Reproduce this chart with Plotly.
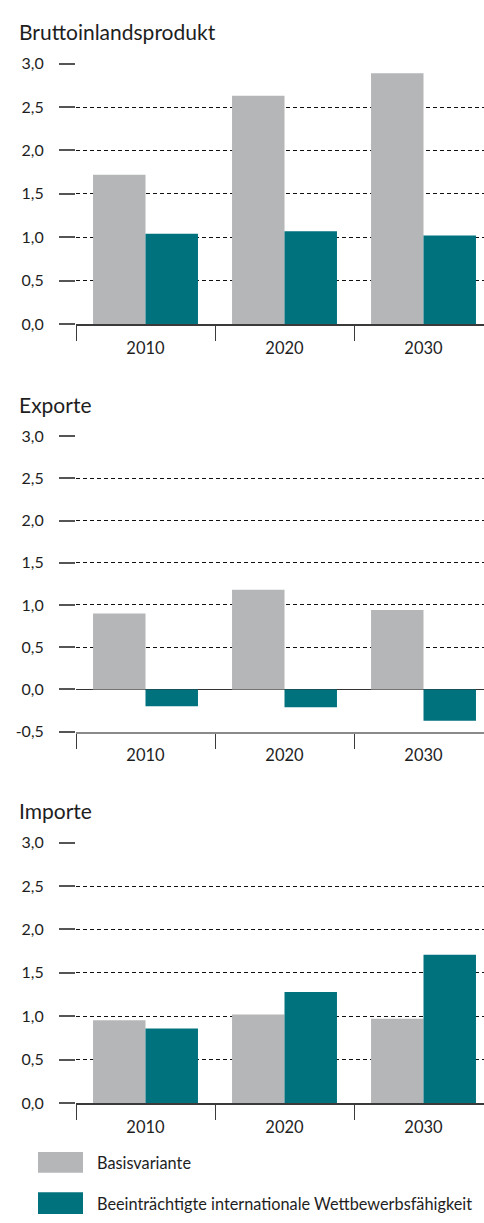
import plotly.graph_objects as go

# ---- data ----
years = ["2010", "2020", "2030"]
series_names = ["Basisvariante", "Beeinträchtigte internationale Wettbewerbsfähigkeit"]
panel_titles = ["Bruttoinlandsprodukt", "Exporte", "Importe"]

bip_basis = [1.72, 2.63, 2.89]
bip_beeintr = [1.04, 1.07, 1.02]
exp_basis = [0.90, 1.18, 0.94]
exp_beeintr = [-0.20, -0.21, -0.37]
imp_basis = [0.955, 1.02, 0.97]
imp_beeintr = [0.86, 1.28, 1.71]

tick_vals_pos = [0.0, 0.5, 1.0, 1.5, 2.0, 2.5, 3.0]
tick_text_pos = ["0,0", "0,5", "1,0", "1,5", "2,0", "2,5", "3,0"]
tick_vals_exp = [-0.5, 0.0, 0.5, 1.0, 1.5, 2.0, 2.5, 3.0]
tick_text_exp = ["-0,5", "0,0", "0,5", "1,0", "1,5", "2,0", "2,5", "3,0"]

colors = ["#b5b6b8", "#00727e"]

W, H = 484, 1223
FONT = "Lato"
TXT = "#1e1e1e"

def py(pix):
    return 1 - pix / H

panels = [
    dict(basis=bip_basis, beeintr=bip_beeintr, top=54, bottom=319, yr=[0, 3.0],
         tv=tick_vals_pos, tt=tick_text_pos, title_y=22),
    dict(basis=exp_basis, beeintr=exp_beeintr, top=432.3, bottom=733, yr=[-0.5, 3.0],
         tv=tick_vals_exp, tt=tick_text_exp, title_y=401),
    dict(basis=imp_basis, beeintr=imp_beeintr, top=845.3, bottom=1110.3, yr=[0, 3.0],
         tv=tick_vals_pos, tt=tick_text_pos, title_y=813),
]

fig = go.Figure()
x_left = 76 / W
annotations = []
shapes = []

for i, p in enumerate(panels):
    n = "" if i == 0 else str(i + 1)
    xa, ya = "x" + n, "y" + n
    for s, vals in enumerate([p["basis"], p["beeintr"]]):
        fig.add_trace(go.Bar(
            x=years, y=vals, name=series_names[s], marker_color=colors[s],
            marker_line_width=0, xaxis=xa, yaxis=ya, showlegend=False,
            offsetgroup=str(s),
        ))
    span = p["yr"][1] - p["yr"][0]
    eps = span * 0.002
    fig.layout["xaxis" + n] = dict(
        domain=[x_left, 1], anchor=ya, type="category",
        range=[-0.5, -0.5 + (W - 76) / 139.0],
        showgrid=False, zeroline=False,
        showline=True, linecolor="#3a3a3a" if i != 1 else "#8a8a8a", linewidth=2,
        ticks="outside", tickson="boundaries", ticklen=15, tickwidth=1.2,
        tickcolor="#3a3a3a", ticklabelstandoff=8,
        tickfont=dict(family=FONT, size=16.5, color=TXT),
        fixedrange=True,
    )
    fig.layout["yaxis" + n] = dict(
        domain=[py(p["bottom"]), py(p["top"])], anchor=xa,
        range=[p["yr"][0], p["yr"][1] + eps],
        tickvals=p["tv"], ticktext=p["tt"],
        showgrid=True, gridcolor="#111111", gridwidth=1, griddash="4px,3px",
        zeroline=(i == 1), zerolinecolor="#333333", zerolinewidth=1,
        showline=False,
        ticks="outside", ticklen=16, tickwidth=2, tickcolor="#555555",
        ticklabelstandoff=12,
        tickfont=dict(family=FONT, size=16, color=TXT),
        fixedrange=True,
    )
    annotations.append(dict(
        text=panel_titles[i], xref="paper", yref="paper",
        x=17 / W, y=py(p["title_y"]), xanchor="left", yanchor="middle",
        showarrow=False, font=dict(family=FONT, size=21, color=TXT),
    ))

# legend (drawn manually)
leg_rows = [(1160, 1181), (1201, 1223)]
for s, (t, b) in enumerate(leg_rows):
    shapes.append(dict(
        type="rect", xref="paper", yref="paper",
        x0=38 / W, x1=83 / W, y0=py(b), y1=py(t),
        fillcolor=colors[s], line_width=0,
    ))
    annotations.append(dict(
        text=series_names[s], xref="paper", yref="paper",
        x=95 / W, y=py((t + b) / 2), xanchor="left", yanchor="middle",
        showarrow=False, font=dict(family=FONT, size=16.3, color=TXT),
    ))

fig.update_layout(
    width=W, height=H,
    margin=dict(l=0, r=0, t=0, b=0),
    paper_bgcolor="white", plot_bgcolor="white",
    barmode="group", bargap=0.245, bargroupgap=0,
    annotations=annotations, shapes=shapes,
    showlegend=False,
    font=dict(family=FONT, color=TXT),
)

fig.write_html(
    "out.html",
    config=dict(displayModeBar=False),
    post_script=(
        "document.documentElement.style.margin='0';"
        "document.body.style.margin='0';"
        "document.body.style.overflow='hidden';"
        "var d=document.getElementById('{plot_id}');"
        "d.style.position='fixed';d.style.top='0px';d.style.left='0px';"
    ),
)
